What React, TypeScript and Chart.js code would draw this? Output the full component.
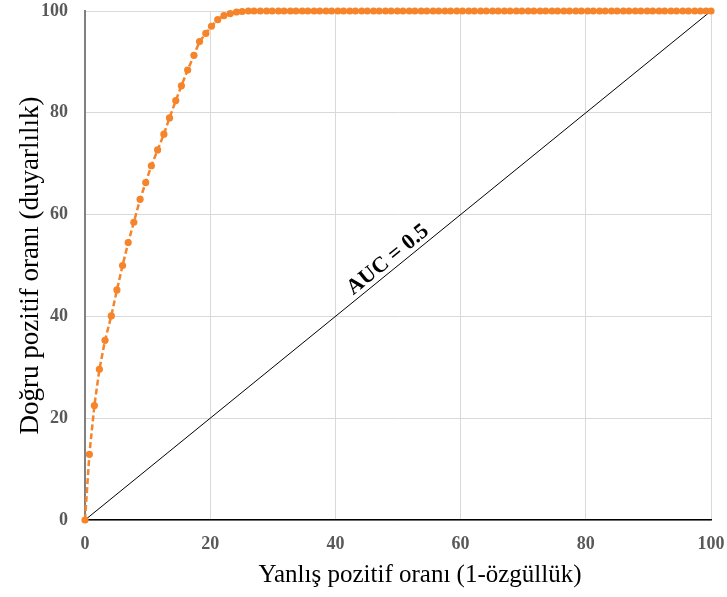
import React, { useEffect, useRef } from "react";
import { Chart, registerables } from "chart.js";

Chart.register(...registerables);

const fprX: number[] = [
  0, 0.7, 1.5, 2.3, 3.2, 4.2, 5.1, 6.0, 6.9, 7.8,
  8.8, 9.7, 10.6, 11.6, 12.6, 13.5, 14.5, 15.4, 16.4, 17.4,
  18.3, 19.3, 20.2, 21.2, 22.2, 23.2, 24.2, 25.1,
  26.1, 27.0, 28.0, 29.0, 29.9, 30.9, 31.8, 32.8, 33.7, 34.7,
  35.6, 36.6, 37.5, 38.5, 39.4, 40.4, 41.3, 42.3, 43.2, 44.2,
  45.1, 46.1, 47.0, 48.0, 48.9, 49.9, 50.8, 51.8, 52.7, 53.7,
  54.6, 55.6, 56.5, 57.5, 58.4, 59.4, 60.3, 61.3, 62.2, 63.2,
  64.1, 65.1, 66.0, 67.0, 67.9, 68.9, 69.8, 70.8, 71.7, 72.7,
  73.6, 74.6, 75.5, 76.5, 77.4, 78.4, 79.3, 80.3, 81.2, 82.2,
  83.1, 84.1, 85.0, 86.0, 86.9, 87.9, 88.8, 89.8, 90.7, 91.7,
  92.6, 93.6, 94.5, 95.5, 96.4, 97.4, 98.3, 99.2, 100,
];

const tprY: number[] = [
  0, 12.9, 22.5, 29.6, 35.3, 40.1, 45.2, 50.0, 54.5, 58.5,
  63.0, 66.3, 69.6, 72.7, 75.8, 79.0, 82.4, 85.3, 88.4, 91.3,
  94.0, 95.6, 97.0, 98.3, 99.1, 99.5, 99.8, 99.9,
  100, 100, 100, 100, 100, 100, 100, 100, 100, 100,
  100, 100, 100, 100, 100, 100, 100, 100, 100, 100,
  100, 100, 100, 100, 100, 100, 100, 100, 100, 100,
  100, 100, 100, 100, 100, 100, 100, 100, 100, 100,
  100, 100, 100, 100, 100, 100, 100, 100, 100, 100,
  100, 100, 100, 100, 100, 100, 100, 100, 100, 100,
  100, 100, 100, 100, 100, 100, 100, 100, 100, 100,
  100, 100, 100, 100, 100, 100, 100, 100, 100,
];

const diagX: number[] = [0, 100];
const diagY: number[] = [0, 100];

const xTitle = "Yanlış pozitif oranı (1-özgüllük)";
const yTitle = "Doğru pozitif oranı (duyarlılık)";
const aucLabel = "AUC = 0.5";
const aucPos = { x: 48.4, y: 51.1 };

const SERIF = '"Liberation Serif", "Times New Roman", serif';
const ORANGE = "#F5842A";

export default function App() {
  const ref = useRef<HTMLCanvasElement | null>(null);

  useEffect(() => {
    document.body.style.margin = "0";
    const canvas = ref.current;
    if (!canvas) return;

    const textPlugin = {
      id: "customText",
      afterDraw(chart: any) {
        const ctx = chart.ctx;
        const xs = chart.scales.x;
        const ys = chart.scales.y;
        const area = chart.chartArea;
        ctx.save();
        ctx.fillStyle = "#000";
        // x-axis title
        ctx.font = `25px ${SERIF}`;
        ctx.textAlign = "center";
        ctx.textBaseline = "alphabetic";
        ctx.fillText(xTitle, 420, 582);
        // y-axis title
        ctx.save();
        ctx.translate(38, (area.top + area.bottom) / 2);
        ctx.rotate(-Math.PI / 2);
        ctx.font = `27px ${SERIF}`;
        ctx.fillText(yTitle, 0, 0);
        ctx.restore();
        // AUC label
        const px = xs.getPixelForValue(aucPos.x);
        const py = ys.getPixelForValue(aucPos.y);
        const dx = xs.getPixelForValue(100) - xs.getPixelForValue(0);
        const dy = ys.getPixelForValue(100) - ys.getPixelForValue(0);
        const ang = Math.atan2(dy, dx);
        ctx.translate(px, py);
        ctx.rotate(ang);
        ctx.font = `bold 22px ${SERIF}`;
        ctx.textAlign = "center";
        ctx.textBaseline = "middle";
        ctx.fillText(aucLabel, 0, 0);
        ctx.restore();
      },
    };

    const chart = new Chart(canvas, {
      type: "scatter",
      data: {
        datasets: [
          {
            label: "ROC",
            data: fprX.map((x, i) => ({ x, y: tprY[i] })),
            showLine: true,
            borderColor: ORANGE,
            backgroundColor: ORANGE,
            borderWidth: 2.5,
            borderDash: [6, 3],
            pointRadius: 3.6,
            pointBorderWidth: 0,
            pointBackgroundColor: ORANGE,
            clip: false,
            order: 1,
          } as any,
          {
            label: "Diag",
            data: diagX.map((x, i) => ({ x, y: diagY[i] })),
            showLine: true,
            borderColor: "#000",
            borderWidth: 1,
            pointRadius: 0,
            order: 2,
          } as any,
        ],
      },
      options: {
        responsive: false,
        animation: false,
        layout: { padding: { top: 11, right: 16, left: 0, bottom: 0 } },
        plugins: {
          legend: { display: false },
          tooltip: { enabled: false },
        },
        scales: {
          x: {
            type: "linear",
            min: 0,
            max: 100,
            afterFit: (s: any) => {
              s.height = 77;
              s.paddingLeft = 0;
              s.paddingRight = 0;
            },
            ticks: {
              stepSize: 20,
              padding: 14,
              color: "#595959",
              font: { family: SERIF, size: 18, weight: "bold" },
            },
            grid: { color: "#d9d9d9", lineWidth: 1, drawTicks: false },
            border: { color: "#000", width: 1.5 },
          },
          y: {
            type: "linear",
            min: 0,
            max: 100,
            afterFit: (s: any) => {
              s.width = 85;
              s.paddingTop = 0;
              s.paddingBottom = 0;
            },
            ticks: {
              stepSize: 20,
              padding: 17,
              color: "#595959",
              font: { family: SERIF, size: 18, weight: "bold" },
            },
            grid: { color: "#d9d9d9", lineWidth: 1, drawTicks: false },
            border: { color: "#808080", width: 2 },
          },
        },
      } as any,
      plugins: [textPlugin],
    });

    return () => chart.destroy();
  }, []);

  return (
    <div style={{ width: 727, height: 597, background: "#fff" }}>
      <canvas ref={ref} width={727} height={597} />
    </div>
  );
}
